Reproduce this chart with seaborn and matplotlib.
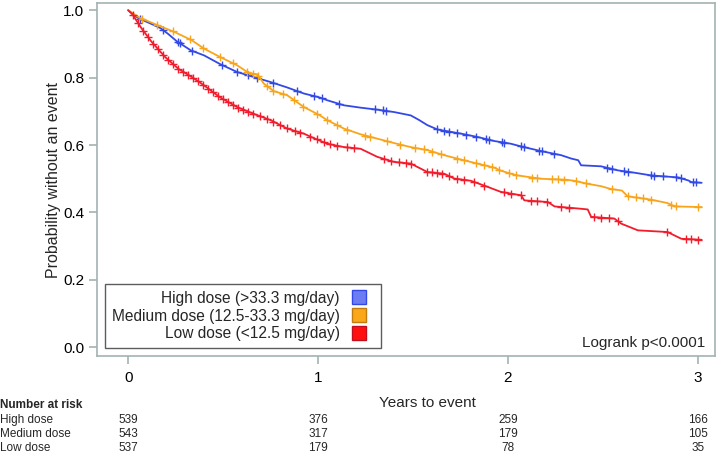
import seaborn as sns
import pandas as pd
import numpy as np
import matplotlib.pyplot as plt
from matplotlib.lines import Line2D
from matplotlib.transforms import blended_transform_factory

# curves (years, survival)
high_t = [0, 0.03, 0.06, 0.12, 0.17, 0.21, 0.256, 0.33, 0.40, 0.485, 0.573, 0.66, 0.75, 0.837, 0.925,
          1.01, 1.048, 1.136, 1.224, 1.312, 1.40, 1.488, 1.53, 1.576, 1.63, 1.752, 1.84, 1.928, 2.015,
          2.069, 2.175, 2.28, 2.333, 2.37, 2.385, 2.49, 2.578, 2.666, 2.754, 2.895, 2.95, 2.966, 3.02]
high_s = [1.0, 0.985, 0.975, 0.96, 0.947, 0.93, 0.908, 0.881, 0.866, 0.840, 0.817, 0.802, 0.787, 0.771, 0.753,
          0.741, 0.733, 0.718, 0.711, 0.705, 0.698, 0.688, 0.675, 0.659, 0.646, 0.634, 0.624, 0.612, 0.604,
          0.596, 0.582, 0.570, 0.560, 0.555, 0.540, 0.537, 0.525, 0.518, 0.510, 0.504, 0.495, 0.490, 0.488]

med_t = [0, 0.06, 0.158, 0.246, 0.335, 0.40, 0.485, 0.573, 0.635, 0.68, 0.715, 0.767, 0.837, 0.925,
         1.01, 1.048, 1.136, 1.224, 1.312, 1.40, 1.488, 1.576, 1.664, 1.752, 1.84, 1.928, 1.963, 2.015,
         2.05, 2.175, 2.31, 2.35, 2.42, 2.49, 2.54, 2.60, 2.63, 2.754, 2.84, 2.877, 3.02]
med_s = [1.0, 0.978, 0.955, 0.935, 0.911, 0.886, 0.861, 0.837, 0.814, 0.81, 0.782, 0.76, 0.748, 0.713,
         0.688, 0.674, 0.649, 0.632, 0.619, 0.606, 0.594, 0.585, 0.570, 0.557, 0.545, 0.533, 0.524, 0.515,
         0.510, 0.500, 0.497, 0.494, 0.485, 0.478, 0.47, 0.465, 0.448, 0.438, 0.428, 0.418, 0.416]

low_t = [0, 0.02, 0.072, 0.124, 0.195, 0.265, 0.335, 0.40, 0.48, 0.573, 0.66, 0.75, 0.837, 0.925,
         0.96, 1.048, 1.136, 1.224, 1.312, 1.40, 1.488, 1.576, 1.664, 1.716, 1.805, 1.893, 1.963,
         2.069, 2.086, 2.21, 2.245, 2.385, 2.42, 2.438, 2.56, 2.596, 2.684, 2.84, 2.913, 3.02]
low_s = [1.0, 0.99, 0.945, 0.906, 0.861, 0.826, 0.802, 0.777, 0.743, 0.713, 0.693, 0.674, 0.649, 0.634,
         0.625, 0.604, 0.594, 0.589, 0.565, 0.550, 0.545, 0.520, 0.515, 0.501, 0.494, 0.476, 0.461,
         0.451, 0.436, 0.431, 0.418, 0.411, 0.409, 0.387, 0.382, 0.367, 0.347, 0.342, 0.322, 0.319]

# censoring times
high_cens = [0.06, 0.185, 0.264, 0.273, 0.335, 0.493, 0.572, 0.633, 0.678, 0.765, 0.889, 0.976, 1.02, 1.108,
             1.30, 1.34, 1.36, 1.627, 1.662, 1.689, 1.733, 1.777, 1.83, 1.882, 1.90, 1.97, 1.979, 2.067,
             2.084, 2.164, 2.18, 2.243, 2.524, 2.55, 2.612, 2.63, 2.753, 2.77, 2.815, 2.885, 2.911, 2.973, 2.99]
med_cens = [0.071, 0.15, 0.237, 0.326, 0.396, 0.484, 0.554, 0.625, 0.66, 0.686, 0.73, 0.765, 0.818, 0.871,
            0.923, 0.994, 1.047, 1.10, 1.152, 1.249, 1.275, 1.363, 1.433, 1.512, 1.556, 1.60, 1.645, 1.733,
            1.768, 1.83, 1.874, 1.918, 1.953, 2.006, 2.041, 2.129, 2.155, 2.234, 2.261, 2.296, 2.357, 2.41,
            2.55, 2.63, 2.674, 2.709, 2.753, 2.858, 2.885, 2.999]
low_cens = [0.026, 0.053, 0.079, 0.106, 0.132, 0.158, 0.185, 0.211, 0.237, 0.264, 0.29, 0.317, 0.343, 0.369,
            0.396, 0.422, 0.449, 0.475, 0.501, 0.528, 0.554, 0.58, 0.607, 0.633, 0.66, 0.695, 0.73, 0.765,
            0.80, 0.836, 0.88, 0.906, 0.959, 0.994, 1.029, 1.064, 1.099, 1.152, 1.187, 1.347, 1.382, 1.426,
            1.461, 1.488, 1.576, 1.60, 1.627, 1.653, 1.689, 1.733, 1.768, 1.821, 1.874, 1.979, 2.015, 2.067,
            2.12, 2.155, 2.208, 2.278, 2.322, 2.454, 2.489, 2.533, 2.577, 2.84, 2.937, 2.963, 2.999]

groups = ['High dose', 'Medium dose', 'Low dose']
legend_labels = ['High dose (>33.3 mg/day)', 'Medium dose (12.5-33.3 mg/day)', 'Low dose (<12.5 mg/day)']
risk_years = [0, 1, 2, 3]
at_risk = {'High dose': [539, 376, 259, 166],
           'Medium dose': [543, 317, 179, 105],
           'Low dose': [537, 179, 78, 35]}

line_cols = {'High dose': '#3349e6', 'Medium dose': '#f9a51c', 'Low dose': '#f21c2c'}
box_cols = ['#6c7df4', '#fba71a', '#ff1010']
box_edges = ['#3349e6', '#c07c10', '#c01020']

curves = {'High dose': (high_t, high_s, high_cens),
          'Medium dose': (med_t, med_s, med_cens),
          'Low dose': (low_t, low_s, low_cens)}

sns.set_style('white')
plt.rcParams['font.family'] = ['Liberation Sans', 'DejaVu Sans']

fig = plt.figure(figsize=(7.2, 4.53), dpi=100)
ax = fig.add_axes([0.135, 0.214, 0.858, 0.779])

rows = []
cens_rows = []
for g in groups:
    t, s, c = curves[g]
    rows.append(pd.DataFrame({'t': t, 's': s, 'grp': g}))
    cens_rows.append(pd.DataFrame({'t': c, 's': np.interp(c, t, s), 'grp': g}))
df = pd.concat(rows)
cdf = pd.concat(cens_rows)

for g in groups:
    sns.lineplot(data=df[df.grp == g], x='t', y='s', color=line_cols[g],
                 linewidth=1.3, estimator=None, sort=False, ax=ax, legend=False)
    sub = cdf[cdf.grp == g]
    ax.plot(sub.t, sub.s, linestyle='none', marker='+', markersize=6, markeredgewidth=1.0,
            color=line_cols[g])

ax.set_xlim(-0.163, 3.09)
ax.set_ylim(-0.026, 1.021)
ax.set_xticks([0, 1, 2, 3])
ax.set_yticks([0.0, 0.2, 0.4, 0.6, 0.8, 1.0])
ax.set_yticklabels(['0.0', '0.2', '0.4', '0.6', '0.8', '1.0'])
spine_col = '#a3b3b3'
for sp in ax.spines.values():
    sp.set_color(spine_col)
    sp.set_linewidth(1.2)
ax.tick_params(axis='both', direction='out', length=6, width=1.2, color=spine_col,
               labelsize=11, labelcolor='black', bottom=True, left=True)
ax.tick_params(axis='x', pad=5)
ax.set_xlabel('')
ax.set_ylabel('Probability without an event', fontsize=11.5, labelpad=1)

ax.text(0.985, 0.018, 'Logrank p<0.0001', transform=ax.transAxes, ha='right', va='bottom', fontsize=11)

handles = [Line2D([], [], linestyle='none', marker='s', markersize=10.5, markerfacecolor=box_cols[i],
                  markeredgecolor=box_edges[i], markeredgewidth=1) for i in range(3)]
leg = ax.legend(handles, legend_labels, loc='lower left', bbox_to_anchor=(0.013, 0.023), borderaxespad=0,
                markerfirst=False, fontsize=11.2, handlelength=2.05, handletextpad=0.2,
                labelspacing=0.18, fancybox=False, frameon=True, borderpad=0.42)
leg.get_frame().set_edgecolor('#333333')
leg.get_frame().set_linewidth(1.0)
leg._legend_box.align = 'right'

fig.text(427 / 720, 1 - 403 / 453, 'Years to event', ha='center', va='center', fontsize=11)

# number at risk table
tr = blended_transform_factory(ax.transData, fig.transFigure)
fig.text(0.0, 1 - 405 / 453, 'Number at risk', ha='left', va='center', fontsize=8.5, fontweight='bold')
row_y = [420, 434, 448]
for g, yy in zip(groups, row_y):
    fig.text(0.0, 1 - yy / 453, g, ha='left', va='center', fontsize=8.5)
    for yr, n in zip(risk_years, at_risk[g]):
        ax.text(yr, 1 - yy / 453, str(n), transform=tr, ha='center', va='center', fontsize=8.5)

plt.savefig('out.png', dpi=100)
